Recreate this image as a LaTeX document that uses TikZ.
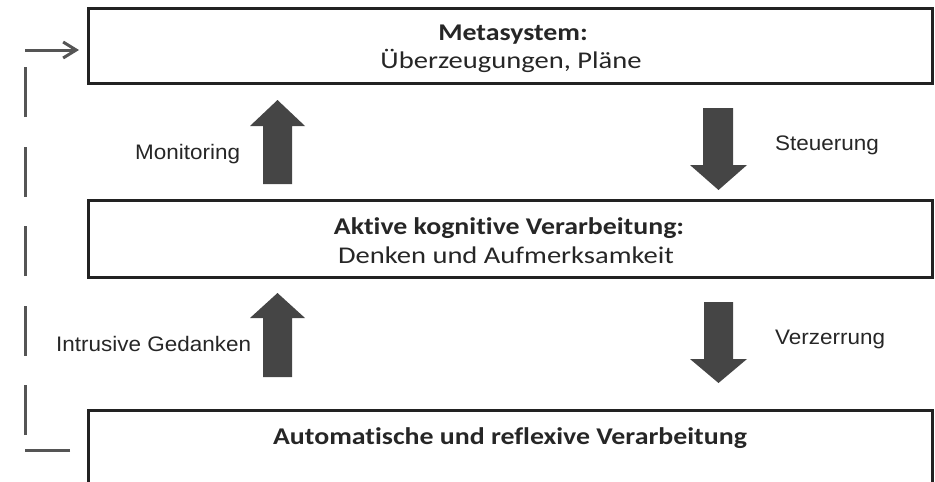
\documentclass[tikz,border=0pt]{standalone}
\usepackage{fontspec}
\setmainfont{Carlito}
\newfontfamily\boxfont[FakeStretch=1.16,Ligatures=NoCommon]{Carlito}
\newfontfamily\boxfontwide[FakeStretch=1.19,Ligatures=NoCommon]{Carlito}
\newfontfamily\labfont[FakeStretch=1.07]{Liberation Sans}
\usetikzlibrary{arrows.meta}
\definecolor{boxline}{HTML}{222222}
\definecolor{blockfill}{HTML}{454545}
\definecolor{feedline}{HTML}{555555}
\definecolor{txt}{HTML}{262626}
\tikzset{
  layerbox/.style={draw=boxline, line width=3pt, fill=white},
  titletext/.style={anchor=base, inner sep=0pt, text=txt, font=\boxfont\bfseries\fontsize{24}{28}\selectfont},
  subtext/.style={anchor=base, inner sep=0pt, text=txt, font=\boxfontwide\fontsize{24}{28}\selectfont},
  labeltext/.style={anchor=base west, inner sep=0pt, text=txt, font=\labfont\fontsize{21}{26}\selectfont},
  blockarrow/.style={fill=blockfill, draw=none},
  feedback/.style={draw=feedline, line width=3pt}
}
\begin{document}
\begin{tikzpicture}[x=1pt,y=-1pt]
\useasboundingbox (0,0) rectangle (935,482);
% boxes
\node[layerbox, minimum width=844pt, minimum height=75pt, inner sep=0pt] (meta) at (510,45.5) {};
\node[layerbox, minimum width=844pt, minimum height=77pt, inner sep=0pt] (aktiv) at (510,238.5) {};
\coordinate (autoNW) at (88,410);
\coordinate (autoNE) at (932,410);
\draw[draw=boxline, line width=3pt] (88,484) -- (autoNW) -- (autoNE) -- (932,484);
% box texts
\node[titletext] (t1) at (513,40) {Metasystem:};
\node[subtext] (s1) at (511,68) {Überzeugungen, Pläne};
\node[titletext] (t2) at (509,234) {Aktive kognitive Verarbeitung:};
\node[subtext] (s2) at (506,263) {Denken und Aufmerksamkeit};
\node[titletext] (t3) at (510,444) {Automatische und reflexive Verarbeitung};
% block arrows
\fill[blockarrow] (263,184) -- (263,126) -- (250,126) -- (277.5,100) -- (305,126) -- (292,126) -- (292,184) -- cycle;
\fill[blockarrow] (263,377) -- (263,318) -- (250,318) -- (277.5,293) -- (305,318) -- (292,318) -- (292,377) -- cycle;
\fill[blockarrow] (703,108) -- (703,165) -- (690,165) -- (718.5,190) -- (747,165) -- (733,165) -- (733,108) -- cycle;
\fill[blockarrow] (704,302) -- (704,359) -- (690,359) -- (718.5,383) -- (747,359) -- (733,359) -- (733,302) -- cycle;
% labels
\node[labeltext] (lmon) at (135,159) {Monitoring};
\node[labeltext] (lst) at (775,150) {Steuerung};
\node[labeltext] (lint) at (56,351) {Intrusive Gedanken};
\node[labeltext] (lver) at (775,344) {Verzerrung};
% feedback dashed line
\coordinate (fbStart) at (70,450);
\coordinate (fbCorner) at (25,450);
\coordinate (fbLow) at (25,435);
\coordinate (fbHigh) at (25,67);
\coordinate (fbTop) at (25,50);
\coordinate (fbEnd) at (79,50);
\draw[feedback] (fbStart) -- (fbCorner);
\draw[feedback, dash pattern=on 50pt off 29.5pt] (fbLow) -- (fbHigh);
\draw[feedback, -{Straight Barb[length=13pt,width=16pt,line width=3pt]}] (fbTop) -- (fbEnd);
\end{tikzpicture}
\end{document}
